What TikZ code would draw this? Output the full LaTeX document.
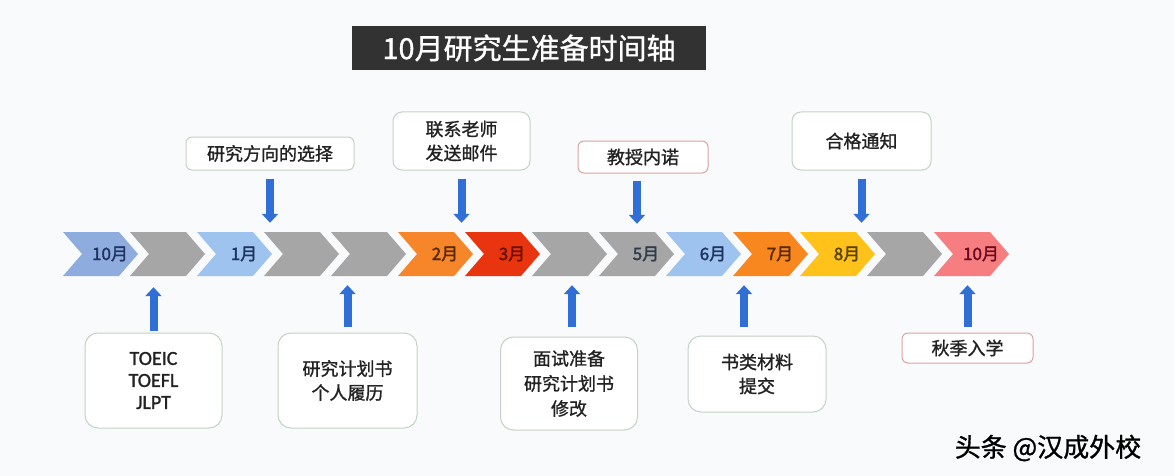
\documentclass[tikz,border=0pt]{standalone}
\usepackage{fontspec}
\setmainfont{Noto Sans CJK SC}
\newfontfamily\cjk{Noto Sans CJK SC}
\newfontfamily\cjkm[FakeBold=1.1]{Noto Sans CJK SC}
\newfontfamily\cjkb[FakeBold=2]{Noto Sans CJK SC}
\newfontfamily\lat[FakeBold=1.3]{Carlito}
\usetikzlibrary{arrows.meta}
\definecolor{bgc}{HTML}{F9FAFC}
\definecolor{titlebg}{HTML}{323232}
\definecolor{cblue}{HTML}{8EACDE}
\definecolor{clblue}{HTML}{9DC3EE}
\definecolor{cgray}{HTML}{A6A6A6}
\definecolor{corange}{HTML}{F7852A}
\definecolor{cred}{HTML}{E8340F}
\definecolor{corange2}{HTML}{F8871F}
\definecolor{cyellow}{HTML}{FFC21A}
\definecolor{csalmon}{HTML}{F77E80}
\definecolor{tnavy}{HTML}{1F3461}
\definecolor{tbrown}{HTML}{5A2A05}
\definecolor{tdred}{HTML}{6B1205}
\definecolor{tslate}{HTML}{2F3A4A}
\definecolor{tgold}{HTML}{5A4200}
\definecolor{tmaroon}{HTML}{6B0A1E}
\definecolor{arrowblue}{HTML}{2F6FD6}
\definecolor{boxgreen}{HTML}{C3D3C3}
\definecolor{boxpink}{HTML}{DDA2A2}
\definecolor{boxtext}{HTML}{222222}
\begin{document}
\begin{tikzpicture}[x=1pt,y=-1pt,
  chevlab/.style={minimum width=56pt, minimum height=44pt, inner sep=0pt,
    font=\cjkb\fontsize{17}{19}\selectfont},
  arr/.style={draw=arrowblue, line width=8pt, -{Triangle[width=16pt,length=9pt]}},
  boxg/.style={draw=boxgreen, line width=1pt, fill=white, rounded corners=9pt,
    align=center, inner sep=0pt, text=boxtext, font=\cjkm\fontsize{18}{24}\selectfont},
  boxp/.style={boxg, draw=boxpink, rounded corners=6pt}]
\fill[bgc] (0,0) rectangle (1174,476);
\useasboundingbox (0,0) rectangle (1174,476);
% title
\node[fill=titlebg, text=white, minimum width=354pt, minimum height=44pt, inner sep=0pt,
  font=\cjkm\fontsize{29}{32}\selectfont] (title) at (529,48) {10月研究生准备时间轴};
% chevrons
\foreach \i/\fc/\tc/\lab in {0/cblue/tnavy/10月, 1/cgray/black/{}, 2/clblue/tnavy/1月,
  3/cgray/black/{}, 4/cgray/black/{}, 5/corange/tbrown/2月, 6/cred/tdred/3月,
  7/cgray/black/{}, 8/cgray/tslate/5月, 9/clblue/tnavy/6月, 10/corange2/tbrown/7月,
  11/cyellow/tgold/8月, 12/cgray/black/{}, 13/csalmon/tmaroon/10月} {
  \pgfmathsetmacro\xo{63+67*\i}
  \fill[\fc] (\xo,232) -- ++(56,0) -- ++(19,22) -- ++(-19,22) -- ++(-56,0) -- ++(19,-22) -- cycle;
  \node[chevlab, text=\tc] (c\i) at (\xo+47,254) {\lab};
}
% top boxes
\node[boxp, rounded corners=6pt, draw=boxgreen, minimum width=168pt, minimum height=33pt] (tA) at (270,153.5) {研究方向的选择};
\node[boxg, minimum width=137pt, minimum height=58pt] (tB) at (461.5,141) {联系老师\\发送邮件};
\node[boxp, minimum width=130pt, minimum height=32pt] (tC) at (643,157) {教授内诺};
\node[boxg, minimum width=139pt, minimum height=58pt] (tD) at (861.5,141) {合格通知};
% bottom boxes
\node[boxg, rounded corners=13pt, minimum width=137pt, minimum height=95pt,
  font=\lat\fontsize{20}{22}\selectfont] (b1) at (153.5,380.5) {TOEIC\\TOEFL\\JLPT};
\node[boxg, rounded corners=13pt, minimum width=139pt, minimum height=95pt] (b2) at (347.5,380.5) {研究计划书\\个人履历};
\node[boxg, rounded corners=13pt, minimum width=137pt, minimum height=93pt,
  font=\cjkm\fontsize{18}{25}\selectfont] (b3) at (569,383.5) {面试准备\\研究计划书\\修改};
\node[boxg, rounded corners=13pt, minimum width=138pt, minimum height=76pt] (b4) at (757,374) {书类材料\\提交};
\node[boxp, minimum width=131pt, minimum height=30pt] (b5) at (967.5,348) {秋季入学};
% arrows down
\draw[arr, shorten <=8pt, shorten >=9pt] (tA.south) -- (tA.south |- c3.north);
\draw[arr, shorten <=8pt, shorten >=9pt] (tB.south) -- (tB.south |- c6.north);
\draw[arr, shorten <=7pt, shorten >=8pt] ([xshift=-6pt]tC.south) -- ([xshift=-6pt]tC.south |- c8.north);
\draw[arr, shorten <=8pt, shorten >=9pt] (tD.south) -- (tD.south |- c11.north);
% arrows up
\draw[arr, shorten <=2pt, shorten >=11pt] (b1.north) -- (b1.north |- c1.south);
\draw[arr, shorten <=6pt, shorten >=9pt] (b2.north) -- (b2.north |- c4.south);
\draw[arr, shorten <=10pt, shorten >=9pt] ([xshift=3pt]b3.north) -- ([xshift=3pt]b3.north |- c7.south);
\draw[arr, shorten <=9pt, shorten >=9pt] ([xshift=-13pt]b4.north) -- ([xshift=-13pt]b4.north |- c10.south);
\draw[arr, shorten <=6pt, shorten >=9pt] (b5.north) -- (b5.north |- c13.south);
% watermark
\node[font=\cjkm\fontsize{26}{28}\selectfont, text=black, inner sep=0pt] (wm) at (1048,448) {头条 @汉成外校};
\end{tikzpicture}
\end{document}
